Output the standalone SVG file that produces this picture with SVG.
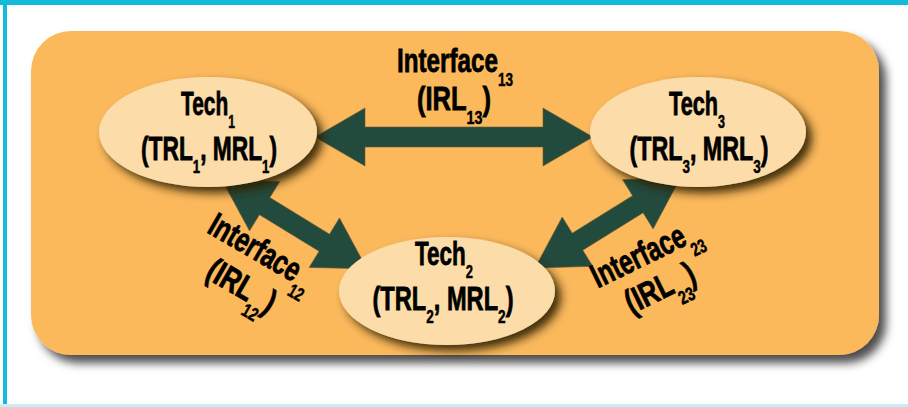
<svg xmlns="http://www.w3.org/2000/svg" width="908" height="407" viewBox="0 0 908 407">
  <defs>
    <filter id="bgShadow" x="-10%" y="-10%" width="125%" height="130%">
      <feDropShadow dx="7" dy="8" stdDeviation="5" flood-color="#000" flood-opacity="0.7"/>
    </filter>
    <filter id="nodeShadow" x="-20%" y="-20%" width="150%" height="160%">
      <feDropShadow dx="6" dy="6" stdDeviation="5" flood-color="#2e1d00" flood-opacity="0.9"/>
    </filter>
    <style>
      .frame { fill: #12BCD8; }
      .panel { fill: #FBB95B; filter: url(#bgShadow); }
      .node { fill: #FCDDA9; filter: url(#nodeShadow); }
      .arrow { fill: #234B3D; stroke: #6b5a35; stroke-width: 0.6; }
      .lbl { font-family: "Liberation Sans Narrow", "Liberation Sans", Arial, sans-serif; font-weight: bold; fill: #000; stroke: #000; stroke-width: 0.8; text-anchor: middle; }
      .t { font-size: 33px; }
      .i { font-size: 34px; }
      .sub { font-size: 19px; stroke-width: 0.5; }
    </style>
  </defs>
  <rect x="0" y="0" width="908" height="407" fill="#fff"/>
  <rect class="frame" x="0" y="0" width="908" height="5"/>
  <rect class="frame" x="3" y="0" width="4" height="407"/>
  <rect x="0" y="404" width="908" height="3" fill="#C6EEF5"/>

  <rect class="panel" x="31" y="31" width="848" height="324" rx="40" ry="40"/>

  <g id="connectors">
    <path class="arrow" transform="translate(315,137)" d="M0,0 L50,-29 L50,-10 L228,-10 L228,-29 L278,0 L228,29 L228,10 L50,10 L50,29 Z"/>
    <path class="arrow" transform="translate(222,180) rotate(31.5)" d="M0,0 L50,-29 L50,-10 L120,-10 L120,-29 L170,0 L120,29 L120,10 L50,10 L50,29 Z"/>
    <path class="arrow" transform="translate(535,268) rotate(-31.8)" d="M0,0 L50,-29 L50,-10 L121,-10 L121,-29 L171,0 L121,29 L121,10 L50,10 L50,29 Z"/>
    <g id="label13">
      <text class="lbl i" x="455" y="72" textLength="116" lengthAdjust="spacingAndGlyphs">Interface<tspan class="sub" dy="14">13</tspan></text>
      <text class="lbl i" x="454" y="110" textLength="74" lengthAdjust="spacingAndGlyphs">(IRL<tspan class="sub" dy="14">13</tspan><tspan dy="-14">)</tspan></text>
    </g>
    <g id="label12" transform="translate(256,261) rotate(30)">
      <text class="lbl i" x="0" y="0" textLength="116" lengthAdjust="spacingAndGlyphs">Interface<tspan class="sub" dy="14">12</tspan></text>
      <text class="lbl i" x="0" y="40" textLength="74" lengthAdjust="spacingAndGlyphs">(IRL<tspan class="sub" dy="14">12</tspan><tspan dy="-14">)</tspan></text>
    </g>
    <g id="label23" transform="translate(650,263) rotate(-26)">
      <text class="lbl i" x="0" y="0" textLength="116" lengthAdjust="spacingAndGlyphs">Interface<tspan class="sub" dy="14">23</tspan></text>
      <text class="lbl i" x="-2" y="38" textLength="74" lengthAdjust="spacingAndGlyphs">(IRL<tspan class="sub" dy="14">23</tspan><tspan dy="-14">)</tspan></text>
    </g>
  </g>

  <g id="tech1">
    <ellipse class="node" cx="208" cy="132" rx="109" ry="55"/>
    <text class="lbl t" x="208" y="115" textLength="54" lengthAdjust="spacingAndGlyphs">Tech<tspan class="sub" dy="13">1</tspan></text>
    <text class="lbl t" x="209" y="160" textLength="136" lengthAdjust="spacingAndGlyphs">(TRL<tspan class="sub" dy="13">1</tspan><tspan dy="-13">, MRL</tspan><tspan class="sub" dy="13">1</tspan><tspan dy="-13">)</tspan></text>
  </g>
  <g id="tech3">
    <ellipse class="node" cx="698" cy="132" rx="108" ry="55"/>
    <text class="lbl t" x="697" y="115" textLength="56" lengthAdjust="spacingAndGlyphs">Tech<tspan class="sub" dy="13">3</tspan></text>
    <text class="lbl t" x="699" y="160" textLength="139" lengthAdjust="spacingAndGlyphs">(TRL<tspan class="sub" dy="13">3</tspan><tspan dy="-13">, MRL</tspan><tspan class="sub" dy="13">3</tspan><tspan dy="-13">)</tspan></text>
  </g>
  <g id="tech2">
    <ellipse class="node" cx="447" cy="291" rx="108" ry="54"/>
    <text class="lbl t" x="444" y="265" textLength="58" lengthAdjust="spacingAndGlyphs">Tech<tspan class="sub" dy="13">2</tspan></text>
    <text class="lbl t" x="443" y="310" textLength="141" lengthAdjust="spacingAndGlyphs">(TRL<tspan class="sub" dy="13">2</tspan><tspan dy="-13">, MRL</tspan><tspan class="sub" dy="13">2</tspan><tspan dy="-13">)</tspan></text>
  </g>
</svg>
